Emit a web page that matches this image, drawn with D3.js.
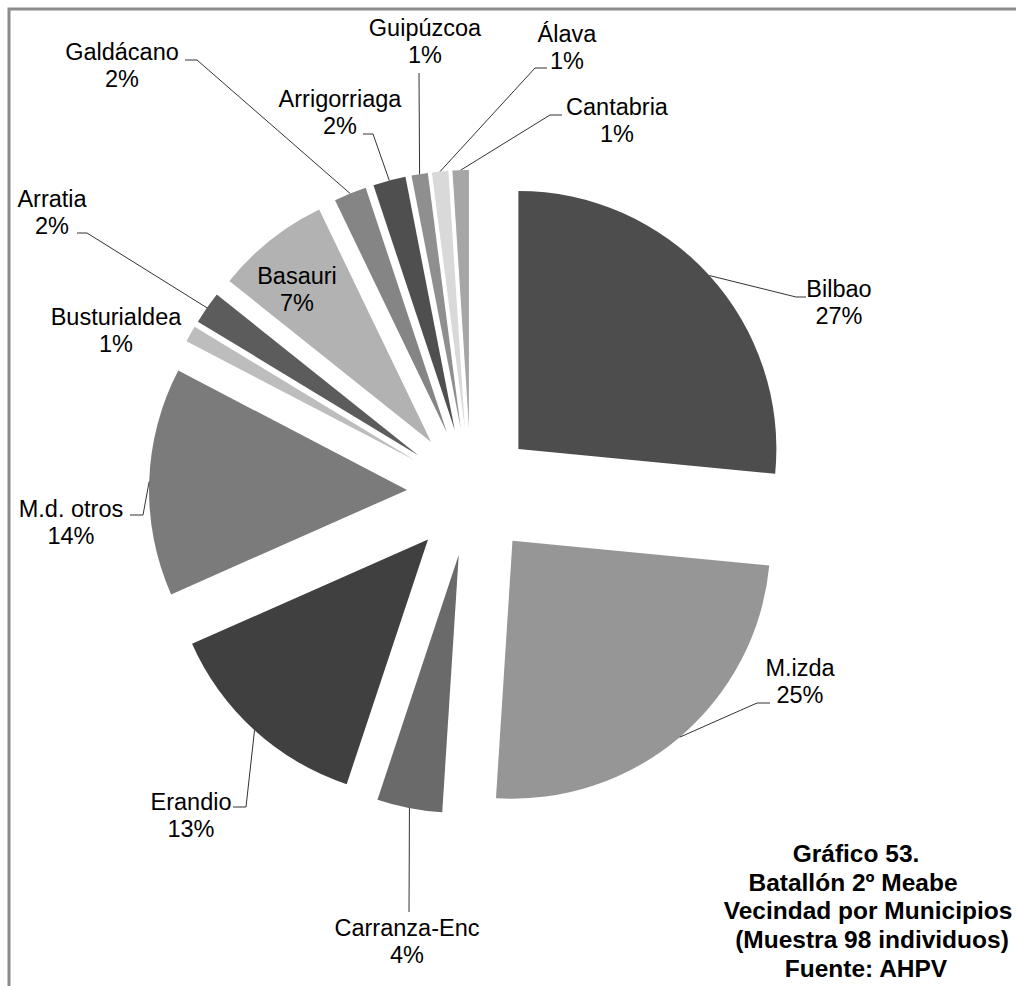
<!DOCTYPE html>
<html><head><meta charset="utf-8">
<script src="https://cdn.jsdelivr.net/npm/d3@7"></script>
<style>body{margin:0;background:#fff} svg{display:block;font-family:"Liberation Sans",Arial,sans-serif}</style>
</head><body><svg id="c" width="1016" height="986"></svg>
<script>
// ---- data ----
const categories = ["Bilbao","M.izda","Carranza-Enc","Erandio","M.d. otros","Busturialdea","Arratia","Basauri","Galdácano","Arrigorriaga","Guipúzcoa","Álava","Cantabria"];
const counts = [26,24,4,13,14,1,2,7,2,2,1,1,1];
const pctLabels = ["27%","25%","4%","13%","14%","1%","2%","7%","2%","2%","1%","1%","1%"];
const titleLines = ["Gráfico 53.","Batallón 2º Meabe","Vecindad por Municipios","(Muestra 98 individuos)","Fuente: AHPV"];

// ---- styles / layout ----
const sliceColors = ["#4d4d4d","#969696","#6a6a6a","#404040","#7b7b7b","#bdbdbd","#5c5c5c","#b2b2b2","#858585","#4f4f4f","#8f8f8f","#d9d9d9","#a6a6a6"];
const cx = 471, cy = 492, R = 258, explode = 64;
const labelLayout = [
  {x:839, y:297, leader:[[796,297],[806,297]]},
  {x:800, y:676, leader:[[757,703],[770,703]]},
  {x:407, y:936, leader:[[409,912]]},
  {x:191, y:810, leader:[[246,807],[233,807]]},
  {x:71,  y:517, leader:[[143,515],[130,515]]},
  {x:116, y:325, leader:null},
  {x:52,  y:207, leader:[[87,233],[77,233]]},
  {x:297, y:284, leader:null},
  {x:122, y:60,  leader:[[197,60],[185,60]]},
  {x:340, y:107, leader:[[373,134],[363,134]]},
  {x:425, y:36,  leader:[[419,73]]},
  {x:567, y:42,  leader:[[535,68],[547,68]]},
  {x:617, y:115, leader:[[550,115],[562,115]]}
];

const svg = d3.select("#c");

// frame
svg.append("path").attr("d","M9,1000V9H1030").attr("fill","none").attr("stroke","#8c8c8c").attr("stroke-width",3);

const pie = d3.pie().sort(null).value(d => d).startAngle(0).endAngle(2*Math.PI);
const arcs = pie(counts);
const arc = d3.arc().innerRadius(0).outerRadius(R);

const g = svg.append("g");
g.selectAll("path.slice").data(arcs).join("path")
  .attr("class","slice")
  .attr("d", arc)
  .attr("fill", (d,i) => sliceColors[i])
  .attr("transform", d => {
    const m = (d.startAngle + d.endAngle)/2;
    return `translate(${cx + explode*Math.sin(m)},${cy - explode*Math.cos(m)})`;
  });

// leader lines
arcs.forEach((d,i) => {
  const L = labelLayout[i];
  if (!L.leader) return;
  const m = (d.startAngle + d.endAngle)/2;
  const rr = R + explode;
  const start = [cx + rr*Math.sin(m), cy - rr*Math.cos(m)];
  svg.append("path")
    .attr("d", d3.line()([start, ...L.leader]))
    .attr("fill","none").attr("stroke","#333").attr("stroke-width",1);
});

// labels
arcs.forEach((d,i) => {
  const L = labelLayout[i];
  const t = svg.append("text").attr("text-anchor","middle").attr("font-size",23.5).attr("fill","#000");
  t.append("tspan").attr("x",L.x).attr("y",L.y).text(categories[i]);
  t.append("tspan").attr("x",L.x).attr("y",L.y+27).text(pctLabels[i]);
});

// title
const titleX = [856, 853, 868, 872, 866];
titleLines.forEach((s,i) => {
  svg.append("text").attr("x",titleX[i]).attr("y",862 + i*28.7)
    .attr("text-anchor","middle").attr("font-size",24.5).attr("font-weight","bold").attr("fill","#000").text(s);
});
</script></body></html>
